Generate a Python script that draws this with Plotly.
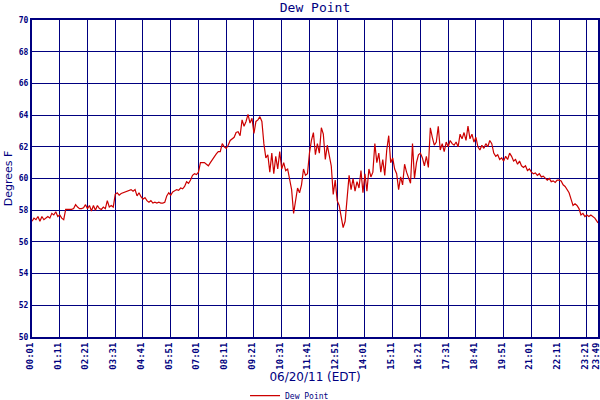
import plotly.graph_objects as go

# Tick labels (time of day) along the x axis
tick_labels = ["00:01", "01:11", "02:21", "03:31", "04:41", "05:51", "07:01",
               "08:11", "09:21", "10:31", "11:41", "12:51", "14:01", "15:11",
               "16:21", "17:31", "18:41", "19:51", "21:01", "22:11", "23:21",
               "23:49"]

# Sample times (minutes after midnight)
minutes = list(range(1, 1422, 5)) + [1429]

# Dew point readings (deg F)
dew_point = [
    57.3, 57.5, 57.4, 57.6, 57.3, 57.6, 57.4, 57.5, 57.6, 57.5,
    57.8, 57.7, 57.9, 57.6, 57.7, 57.5, 57.4, 58.05, 58.05, 58.05,
    58.05, 58.1, 58.35, 58.2, 58.1, 58.1, 58.15, 58.35, 58.1, 58.3,
    57.95, 58.3, 58.0, 58.3, 58.1, 58.05, 58.2, 58.1, 58.6, 58.2,
    58.3, 58.2, 59.0, 59.1, 58.95, 59.05, 59.1, 59.15, 59.2, 59.25,
    59.3, 59.2, 59.3, 58.9, 59.1, 58.85, 58.7, 58.8, 58.6, 58.5,
    58.6, 58.45, 58.5, 58.45, 58.5, 58.45, 58.45, 58.5, 58.9, 59.1,
    58.95, 59.15, 59.2, 59.3, 59.25, 59.4, 59.35, 59.5, 59.8, 59.7,
    59.9, 60.2, 60.3, 60.25, 60.4, 61.0, 61.0, 61.0, 60.9, 60.8,
    61.0, 61.2, 61.4, 61.55, 61.7, 61.7, 62.2, 62.0, 61.9, 62.1,
    62.4, 62.5, 62.6, 62.9, 62.95, 62.7, 63.7, 63.3, 63.6, 64.05,
    63.5, 63.8, 62.85, 63.6, 63.7, 63.9, 63.6, 62.2, 61.3, 61.5,
    60.4, 61.6, 60.3, 61.4, 60.6, 61.7, 60.6, 61.0, 60.5, 60.6,
    59.8, 59.3, 57.8, 58.5, 59.4, 59.1, 59.6, 60.6, 60.2, 60.3,
    61.6, 62.4, 62.9, 61.5, 62.2, 61.6, 63.2, 62.8, 61.2, 62.1,
    61.5, 60.8, 59.0, 59.9, 58.6, 58.3, 57.6, 56.9, 57.3, 59.0,
    60.2, 59.3, 60.0, 59.2, 59.8, 59.4, 60.5, 59.1, 60.3, 59.2,
    60.6, 60.1, 60.4, 62.2, 61.0, 61.6, 60.4, 61.2, 60.2, 61.8,
    62.7, 61.0, 61.3, 60.6, 60.3, 59.3, 60.1, 59.6, 60.9, 60.4,
    60.0, 59.7, 62.2, 60.0, 61.0, 61.5, 61.6, 61.3, 60.8, 61.4,
    60.7, 63.2, 62.6, 62.1, 62.3, 63.3, 61.8, 62.2, 61.7, 62.3,
    62.0, 62.4, 62.2, 62.1, 62.3, 62.0, 62.8, 62.5, 62.9, 62.4,
    63.3, 62.5, 62.8, 62.3, 62.6, 62.0, 61.8, 62.1, 61.9, 62.2,
    62.0, 62.4, 62.2, 61.6, 61.4, 61.5, 61.2, 61.3, 61.1, 61.4,
    61.2, 61.6, 61.4, 61.1, 61.2, 60.9, 61.1, 60.8, 60.7, 60.8,
    60.5, 60.6, 60.4, 60.3, 60.35, 60.2, 60.3, 60.1, 60.15, 60.0,
    59.9, 60.0, 59.8, 59.85, 59.75, 59.9, 59.9, 59.85, 59.6, 59.5,
    59.3, 59.1, 58.7, 58.3, 58.4, 58.3, 58.1, 57.7, 57.8, 57.6,
    57.7, 57.6, 57.7, 57.6, 57.5,
    57.2,
]

y_ticks = [50, 52, 54, 56, 58, 60, 62, 64, 66, 68, 70]

NAVY = "#000080"
tick_vals = [int(t[:2]) * 60 + int(t[3:]) for t in tick_labels]

fig = go.Figure()
fig.add_trace(go.Scatter(
    x=minutes, y=dew_point, mode="lines", name="Dew Point",
    line=dict(color="#cc0000", width=1.2),
))

fig.update_layout(
    width=600, height=400,
    margin=dict(l=32, r=2, t=20, b=63, autoexpand=False),
    paper_bgcolor="white", plot_bgcolor="white",
    title=dict(text="Dew Point", x=0.525, xanchor="center", y=0.993, yanchor="top",
               font=dict(family="DejaVu Sans Mono", size=13, color=NAVY)),
    showlegend=True,
    legend=dict(orientation="h", x=0.455, xanchor="center", y=-0.185, yanchor="middle",
                font=dict(family="DejaVu Sans Mono", size=8, color=NAVY),
                bgcolor="rgba(0,0,0,0)", itemwidth=30),
    xaxis=dict(
        range=[1, 1429], tickmode="array", tickvals=tick_vals, ticktext=tick_labels,
        tickangle=-90, showgrid=True, gridcolor=NAVY, gridwidth=1,
        showline=True, linecolor=NAVY, linewidth=2, mirror=True,
        ticks="", zeroline=False, ticklabeloverflow="allow", ticklabelshift=-2,
        tickfont=dict(family="DejaVu Sans Mono", size=9, color=NAVY, weight="bold"),
        title=dict(text="06/20/11 (EDT)", standoff=4,
                   font=dict(family="DejaVu Sans", size=12, color=NAVY)),
        automargin=False,
    ),
    yaxis=dict(
        range=[50, 70], tickmode="array", tickvals=y_ticks,
        showgrid=True, gridcolor=NAVY, gridwidth=1,
        showline=True, linecolor=NAVY, linewidth=2, mirror=True,
        ticks="", zeroline=False,
        tickfont=dict(family="DejaVu Sans Mono", size=8, color=NAVY, weight="bold"),
        title=dict(text="Degrees F", standoff=4,
                   font=dict(family="DejaVu Sans", size=11, color=NAVY)),
        automargin=False,
    ),
)

fig.write_html("out.html", config={"displayModeBar": False},
               post_script="document.body.style.margin='0';document.body.style.overflow='hidden';")
